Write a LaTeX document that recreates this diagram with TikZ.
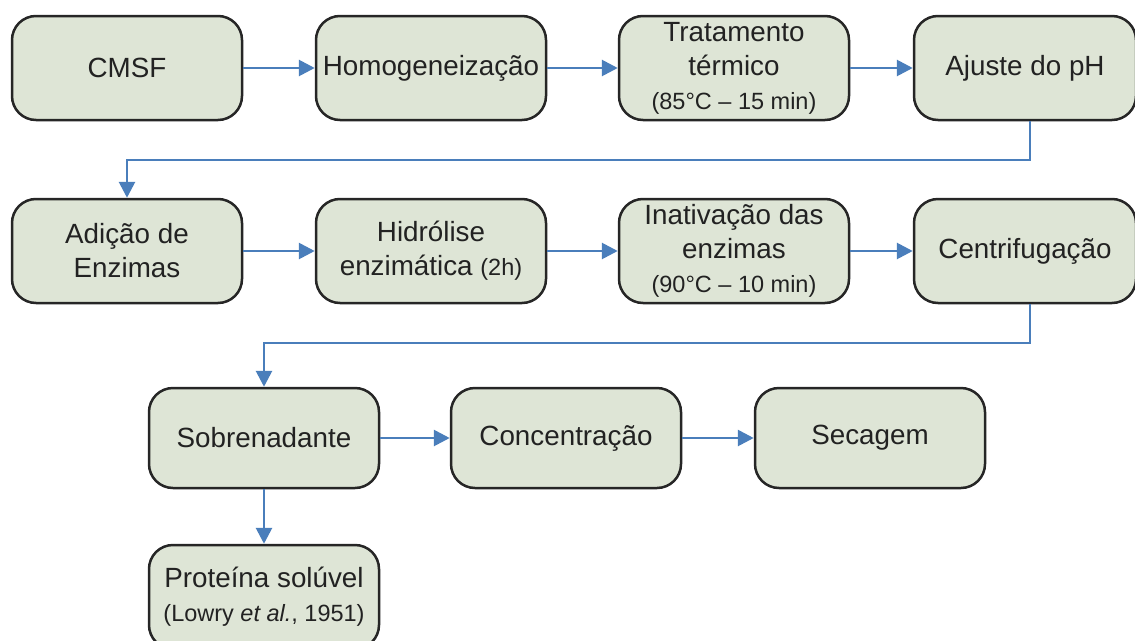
\documentclass[tikz,border=0pt]{standalone}
\usepackage{fontspec}
\setmainfont{Liberation Sans}
\usetikzlibrary{arrows.meta}
\definecolor{boxfill}{RGB}{222,229,214}
\definecolor{flowblue}{RGB}{74,126,187}
\definecolor{txtgray}{RGB}{34,34,34}
\newcommand{\smallnote}[1]{{\fontsize{23.5}{30}\selectfont #1}}
\tikzset{
  stepbox/.style={draw=black!85, line width=2.5pt, fill=boxfill, rounded corners=24pt,
    minimum width=230pt, minimum height=104pt, align=center, inner sep=2pt,
    text=txtgray, font=\fontsize{27.8}{34}\selectfont},
  flow/.style={draw=flowblue, line width=2.8pt, -{Triangle[length=16pt,width=16pt]}}
}
\begin{document}
\begin{tikzpicture}[x=1pt, y=-1pt]
        \useasboundingbox (0,0) rectangle (1135,640);
        % first row
        \node [stepbox] (cmsf) at (127,68) {CMSF};
        \node [stepbox] (homog) at (431,68) {Homogeneização};
        \node [stepbox] (trat) at (734,68) {Tratamento\\térmico\\\smallnote{(85°C – 15 min)}};
        \node [stepbox, minimum width=222pt] (ajuste) at (1025,68) {Ajuste do pH};
        % second row
        \node [stepbox] (adicao) at (127,251) {Adição de\\Enzimas};
        \node [stepbox] (hidrol) at (431,251) {Hidrólise\\enzimática \smallnote{(2h)}};
        \node [stepbox] (inativ) at (734,251) {Inativação das\\enzimas\\\smallnote{(90°C – 10 min)}};
        \node [stepbox, minimum width=222pt] (centrif) at (1025,251) {Centrifugação};
        % third and fourth rows
        \node [stepbox, minimum height=100pt] (sobren) at (264,438) {Sobrenadante};
        \node [stepbox, minimum height=100pt] (concent) at (566,438) {Concentração};
        \node [stepbox, minimum height=100pt] (secag) at (870,438) {Secagem};
        \node [stepbox] (proteina) at (264,597) {Proteína solúvel\\\smallnote{(Lowry \textit{et al.}, 1951)}};
        \coordinate (turn1) at (0,160);
        \coordinate (turn2) at (0,343);
        \draw [flow] (cmsf) -- (homog);
        \draw [flow] (homog) -- (trat);
        \draw [flow] (trat) -- (ajuste);
        \draw [flow] ([xshift=5pt]ajuste.south) |- (turn1 -| adicao.north) -- (adicao.north);
        \draw [flow] (adicao) -- (hidrol);
        \draw [flow] (hidrol) -- (inativ);
        \draw [flow] (inativ) -- (centrif);
        \draw [flow] ([xshift=5pt]centrif.south) |- (turn2 -| sobren.north) -- (sobren.north);
        \draw [flow] (sobren) -- (concent);
        \draw [flow] (concent) -- (secag);
        \draw [flow] (sobren) -- (proteina);
      \end{tikzpicture}
\end{document}
